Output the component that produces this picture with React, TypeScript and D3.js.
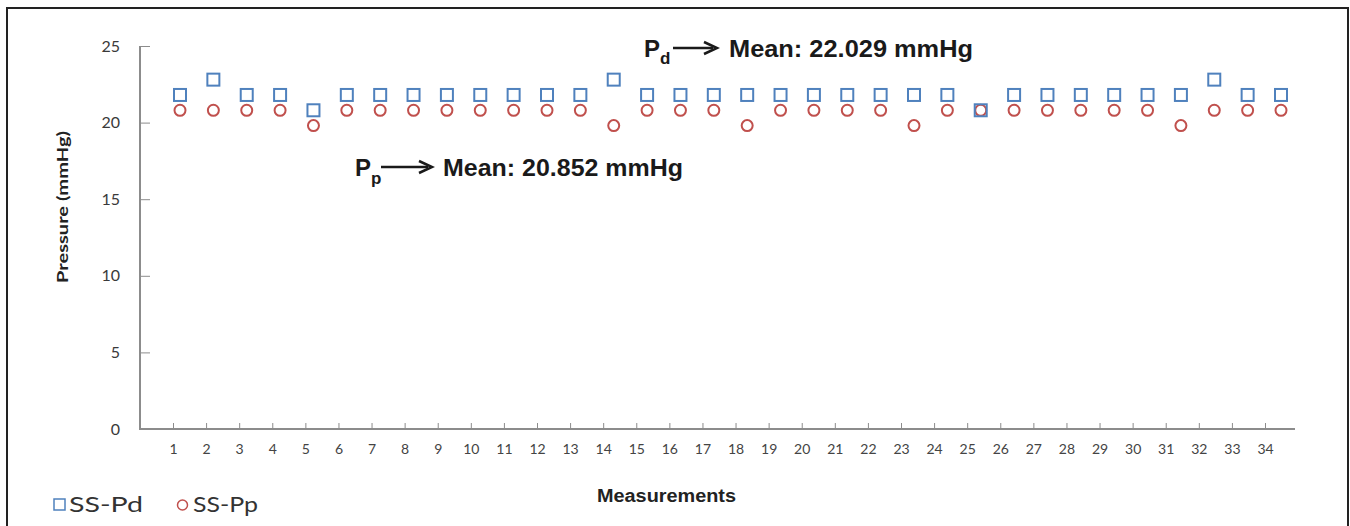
import React, { useRef, useEffect } from 'react';
import { select, scaleLinear, axisLeft, axisBottom } from 'd3';

// measurement numbers 1..34
const measurements = [
  1, 2, 3, 4, 5, 6, 7, 8, 9, 10, 11, 12, 13, 14, 15, 16, 17,
  18, 19, 20, 21, 22, 23, 24, 25, 26, 27, 28, 29, 30, 31, 32, 33, 34,
];
// SS-Pd (squares)
const ssPd = [
  22, 23, 22, 22, 21, 22, 22, 22, 22, 22, 22, 22, 22, 23, 22, 22, 22,
  22, 22, 22, 22, 22, 22, 22, 21, 22, 22, 22, 22, 22, 22, 23, 22, 22,
];
// SS-Pp (circles)
const ssPp = [
  21, 21, 21, 21, 20, 21, 21, 21, 21, 21, 21, 21, 21, 20, 21, 21, 21,
  20, 21, 21, 21, 21, 20, 21, 21, 21, 21, 21, 21, 21, 20, 21, 21, 21,
];
const yTicks = [0, 5, 10, 15, 20, 25];
const pdMean = '22.029';
const ppMean = '20.852';

const W = 1350;
const H = 526;
const blue = '#4f81bd';
const red = '#c0504d';
const axisGrey = '#8c8c8c';
const labelFont = 'Lato, "Open Sans", sans-serif';
const boldFont = '"Liberation Sans Narrow", "Arial Narrow", "Liberation Sans", Arial, sans-serif';

function App() {
  const xAxisRef = useRef<SVGGElement>(null);
  const yAxisRef = useRef<SVGGElement>(null);

  // tick label scale and the (slightly shifted) marker scale
  const xLabel = scaleLinear().domain([1, 34]).range([173, 1265]);
  const xPoint = scaleLinear().domain([1, 34]).range([180, 1281]);
  const y = scaleLinear().domain([0, 25]).range([429, 46]);
  const yPoint = scaleLinear().domain([0, 25]).range([432, 49]);

  useEffect(() => {
    const gx = select(xAxisRef.current);
    gx.call(
      axisBottom(xLabel)
        .tickValues(measurements)
        .tickFormat((d) => String(d))
        .tickSizeInner(-6)
        .tickSizeOuter(0)
        .tickPadding(15)
    );
    gx.attr('font-size', 14).attr('font-family', labelFont);
    gx.select('.domain').remove();
    gx.selectAll('line').attr('stroke', axisGrey);
    gx.selectAll('text').attr('fill', '#444');

    const gy = select(yAxisRef.current);
    gy.call(
      axisLeft(y)
        .tickValues(yTicks)
        .tickSizeInner(-10)
        .tickSizeOuter(0)
        .tickPadding(20)
    );
    gy.attr('font-size', 16).attr('font-family', labelFont);
    gy.select('.domain').remove();
    gy.selectAll('line').attr('stroke', axisGrey);
    gy.selectAll('text').attr('fill', '#3a3a3a');
  }, []);

  return (
    <svg
      width={W}
      height={H}
      style={{ position: 'absolute', left: 0, top: 0, background: '#fff' }}
    >
      <rect x={7} y={8} width={1341} height={530} fill="#fff" stroke="#222" strokeWidth={2} />

      {/* axis lines */}
      <line x1={140} x2={140} y1={y(25)} y2={y(0)} stroke={axisGrey} strokeWidth={2} />
      <line x1={139} x2={1295} y1={y(0)} y2={y(0)} stroke={axisGrey} strokeWidth={2} />
      <g ref={xAxisRef} transform={`translate(0,${y(0)})`} />
      <g ref={yAxisRef} transform="translate(140,0)" />

      {/* markers */}
      {measurements.map((m, i) => (
        <circle
          key={'pp' + m}
          cx={xPoint(m)}
          cy={yPoint(ssPp[i])}
          r={5.5}
          fill="none"
          stroke={red}
          strokeWidth={2}
        />
      ))}
      {measurements.map((m, i) => (
        <rect
          key={'pd' + m}
          x={xPoint(m) - 6}
          y={yPoint(ssPd[i]) - 6}
          width={12}
          height={12}
          fill="none"
          stroke={blue}
          strokeWidth={2}
        />
      ))}

      {/* axis titles */}
      <text
        transform="translate(68,207) rotate(-90)"
        textAnchor="middle"
        fontFamily={labelFont}
        fontWeight="bold"
        fontSize={16}
        fill="#222"
        textLength={152}
        lengthAdjust="spacingAndGlyphs"
      >
        Pressure (mmHg)
      </text>
      <text
        x={597}
        y={502}
        fontFamily={boldFont}
        fontWeight="bold"
        fontSize={18}
        fill="#222"
        textLength={139}
        lengthAdjust="spacingAndGlyphs"
      >
        Measurements
      </text>

      {/* mean annotations */}
      <g fontFamily={boldFont} fontWeight="bold" fill="#1a1a1a">
        <text x={644} y={57} fontSize={24}>
          P<tspan dy={7} fontSize={17}>d</tspan>
        </text>
        <line x1={673} x2={713} y1={48} y2={48} stroke="#1a1a1a" strokeWidth={2.5} />
        <path d="M704,42 L717,48 L704,54" fill="none" stroke="#1a1a1a" strokeWidth={2.5} />
        <text x={729} y={57} fontSize={23} textLength={244} lengthAdjust="spacingAndGlyphs">
          {`Mean: ${pdMean} mmHg`}
        </text>

        <text x={355} y={176} fontSize={24}>
          P<tspan dy={8} fontSize={17}>p</tspan>
        </text>
        <line x1={381} x2={428} y1={167} y2={167} stroke="#1a1a1a" strokeWidth={2.5} />
        <path d="M419,161 L432,167 L419,173" fill="none" stroke="#1a1a1a" strokeWidth={2.5} />
        <text x={443} y={176} fontSize={23} textLength={240} lengthAdjust="spacingAndGlyphs">
          {`Mean: ${ppMean} mmHg`}
        </text>
      </g>

      {/* legend */}
      <rect x={54} y={499} width={11} height={11} fill="none" stroke={blue} strokeWidth={1.5} />
      <text x={69} y={512} fontFamily={labelFont} fontSize={22} fill="#333" textLength={74} lengthAdjust="spacingAndGlyphs">
        SS-Pd
      </text>
      <circle cx={182.5} cy={505} r={5} fill="none" stroke={red} strokeWidth={1.5} />
      <text x={193} y={512} fontFamily={labelFont} fontSize={22} fill="#333" textLength={65} lengthAdjust="spacingAndGlyphs">
        SS-Pp
      </text>
    </svg>
  );
}

export default App;
